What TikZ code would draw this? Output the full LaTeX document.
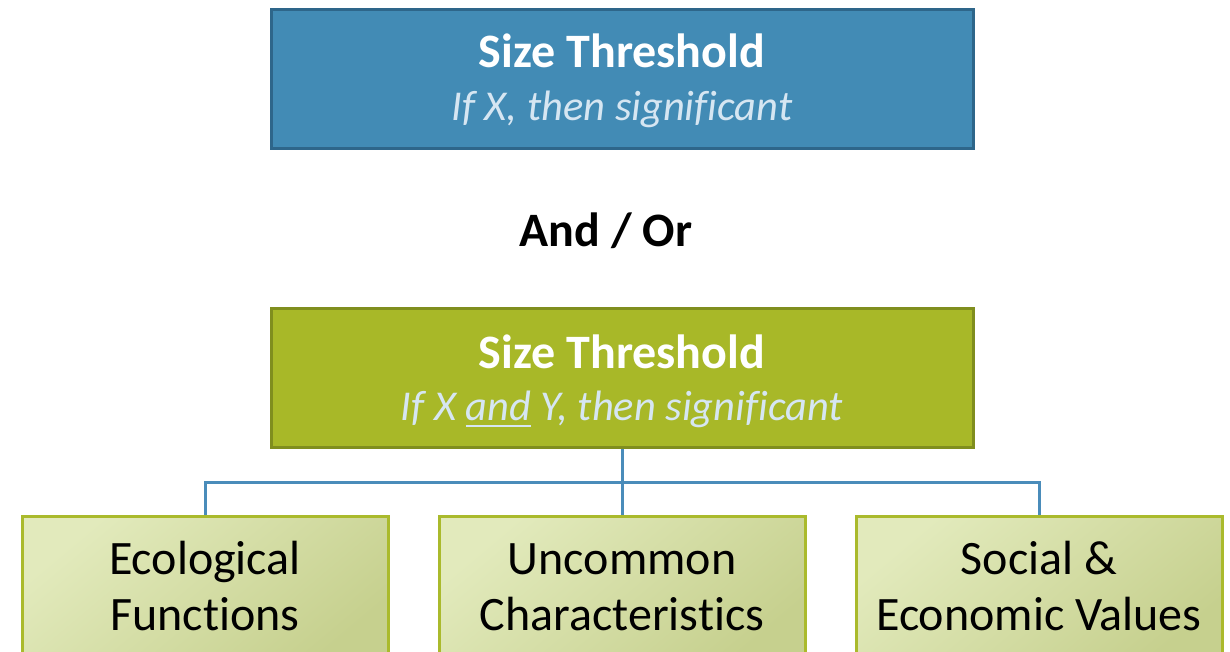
\documentclass[tikz,border=0pt]{standalone}
\usepackage{fontspec}
\setmainfont{Carlito}[RawFeature=-liga]
\definecolor{topfill}{RGB}{66,139,181}
\definecolor{topdraw}{RGB}{46,102,138}
\definecolor{grfill}{RGB}{168,184,40}
\definecolor{grdraw}{RGB}{128,142,30}
\definecolor{subtxt}{RGB}{214,230,242}
\definecolor{lightA}{RGB}{226,234,188}
\definecolor{lightB}{RGB}{198,208,142}
\definecolor{lightdraw}{RGB}{170,186,44}
\definecolor{linkc}{RGB}{74,140,186}
\newcommand\myul[1]{\setbox0\hbox{#1}\rlap{\rule[-7pt]{\wd0}{2.5pt}}\box0\relax}
\tikzset{
  mainbox/.style={rectangle, minimum width=702pt, minimum height=139pt, line width=3pt, inner sep=0pt},
  leafbox/.style={rectangle, minimum width=366pt, minimum height=150pt, line width=3pt, draw=lightdraw, inner sep=0pt,
    left color=lightA, right color=lightB, shading angle=40},
  ttl/.style={anchor=base, font=\fontsize{48}{56}\selectfont\bfseries, text=white, inner sep=0pt},
  sub/.style={anchor=base, font=\fontsize{42.5}{48}\selectfont\itshape, text=subtxt, inner sep=0pt},
  leaftxt/.style={anchor=base, font=\fontsize{48}{57}\selectfont, text=black, inner sep=0pt},
  link/.style={draw=linkc, line width=3pt}
}
\begin{document}
\begin{tikzpicture}[x=1pt,y=-1pt]
\useasboundingbox (0,0) rectangle (1230,652);
\clip (0,0) rectangle (1230,652);
% top box
\node[mainbox, fill=topfill, draw=topdraw] (top) at (622,79) {};
\node[ttl] (toptitle) at (622,68) {Size Threshold};
\node[sub] (topsub) at (622,121) {If X, then significant};
% and/or
\node[anchor=base, font=\fontsize{48}{56}\selectfont\bfseries, inner sep=0pt] (andor) at (606,247) {And / Or};
% green box
\node[mainbox, fill=grfill, draw=grdraw] (mid) at (622,377.5) {};
\node[ttl] (midtitle) at (622,368) {Size Threshold};
\node[sub] (midsub) at (622,420) {If X \myul{and} Y, then significant};
% leaf boxes
\node[leafbox] (l1) at (205,591) {};
\node[leafbox] (l2) at (622,591) {};
\node[leafbox] (l3) at (1039,591) {};
\node[leaftxt] (l1a) at (205,574) {Ecological};
\node[leaftxt] (l1b) at (205,630) {Functions};
\node[leaftxt] (l2a) at (622,574) {Uncommon};
\node[leaftxt] (l2b) at (622,630) {Characteristics};
\node[leaftxt] (l3a) at (1039,574) {Social \&};
\node[leaftxt] (l3b) at (1039,630) {Economic Values};
% connectors
\coordinate (bus) at (622,482);
\draw[link] (mid.south) -- (bus);
\draw[link] (bus) -| (l1.north);
\draw[link] (bus) -- (l2.north);
\draw[link] (bus) -| (l3.north);
\end{tikzpicture}
\end{document}
